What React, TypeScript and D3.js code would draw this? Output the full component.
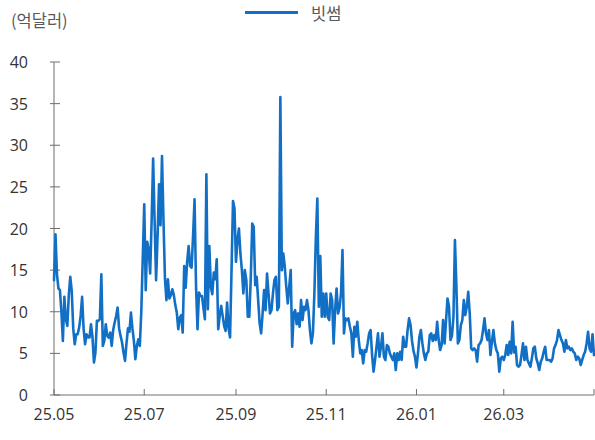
import React from "react";
import * as d3 from "d3";

// Daily trading volume on Bithumb, in 100-million USD (억달러), one array per month.
const may2025 = [13.8, 19.3, 14.5, 12.8, 12.6, 10.0, 6.5, 11.8, 9.1, 8.3, 12.0, 14.2, 12.5, 8.0, 6.1, 7.3, 7.3, 8.1, 9.5, 11.8, 8.0, 6.1, 7.3, 6.9, 6.9, 8.5, 7.0, 3.9, 5.1, 8.9, 8.9];
const jun2025 = [9.1, 14.5, 5.9, 6.5, 8.5, 7.1, 6.9, 7.5, 5.9, 7.8, 8.7, 9.5, 10.5, 8.0, 7.1, 6.3, 5.1, 4.1, 6.2, 8.0, 7.6, 9.9, 8.0, 6.5, 4.3, 5.9, 6.7, 5.9, 10.0, 16.5];
const jul2025 = [22.9, 12.6, 18.4, 17.5, 14.6, 21.0, 28.4, 21.0, 13.8, 19.0, 25.3, 20.4, 28.7, 21.0, 14.0, 11.4, 13.9, 11.6, 12.0, 12.7, 12.0, 10.8, 9.9, 7.9, 9.3, 9.6, 7.5, 15.5, 12.9, 16.0, 17.9];
const aug2025 = [15.5, 15.3, 19.1, 23.5, 13.1, 7.9, 12.3, 11.9, 11.9, 10.5, 9.1, 26.5, 10.3, 17.9, 13.0, 12.1, 14.7, 13.9, 16.3, 7.9, 9.5, 10.7, 9.5, 8.3, 7.7, 11.1, 8.0, 6.9, 15.0, 23.3, 22.4];
const sep2025 = [16.0, 18.6, 20.0, 17.0, 15.0, 12.2, 15.0, 13.8, 9.4, 9.4, 14.0, 20.6, 20.2, 13.2, 14.2, 11.4, 8.6, 7.4, 9.8, 12.6, 10.2, 14.6, 12.2, 9.8, 10.2, 12.2, 13.8, 14.2, 10.2, 10.6];
const oct2025 = [35.8, 15.0, 17.0, 15.4, 13.0, 11.0, 13.0, 15.0, 5.8, 9.8, 10.2, 8.5, 9.8, 8.2, 11.4, 9.0, 10.6, 10.2, 11.4, 10.2, 7.8, 6.2, 7.4, 12.2, 19.0, 23.6, 10.6, 16.7, 9.4, 12.2, 9.4];
const nov2025 = [12.2, 9.4, 9.0, 12.2, 11.4, 6.2, 10.2, 12.8, 9.8, 10.5, 12.2, 17.4, 7.4, 9.2, 9.0, 9.2, 8.2, 7.4, 4.6, 8.2, 7.0, 8.8, 6.6, 5.0, 5.4, 3.8, 5.4, 5.2, 6.2, 7.4];
const dec2025 = [7.8, 4.8, 2.8, 4.2, 5.8, 7.4, 4.6, 5.8, 7.4, 4.6, 4.2, 6.0, 5.8, 5.0, 4.6, 4.2, 5.0, 3.0, 5.0, 4.2, 5.2, 4.2, 7.0, 5.8, 5.8, 7.8, 9.2, 8.4, 6.5, 5.3, 4.6];
const jan2026 = [3.3, 5.0, 7.0, 7.8, 6.2, 5.0, 4.2, 5.0, 5.2, 7.2, 7.4, 6.5, 7.2, 6.6, 8.8, 6.6, 5.4, 6.0, 9.0, 6.2, 9.0, 11.6, 10.6, 6.6, 7.1, 9.4, 18.6, 13.0, 6.2, 6.6, 8.4];
const feb2026 = [9.0, 11.4, 9.6, 10.6, 12.4, 9.8, 5.6, 5.4, 5.6, 5.4, 4.0, 6.0, 6.2, 6.6, 7.8, 9.2, 7.4, 6.6, 7.8, 4.8, 6.4, 7.8, 6.2, 5.4, 5.0, 2.8, 4.4, 4.6];
const mar2026 = [4.2, 4.8, 6.0, 4.8, 6.4, 5.0, 8.8, 5.1, 5.8, 3.6, 3.4, 3.6, 4.8, 6.2, 4.2, 5.8, 4.2, 3.8, 3.4, 4.4, 5.6, 5.8, 4.4, 3.8, 3.0, 4.0, 4.4, 5.2, 5.8, 4.2, 4.2];
const apr2026 = [4.2, 4.0, 4.4, 5.6, 6.0, 6.6, 7.8, 7.2, 6.6, 6.2, 5.2, 6.6, 5.6, 5.8, 5.4, 5.6, 5.2, 5.0, 4.2, 4.6, 4.4, 3.6, 4.2, 4.8, 5.2, 6.2, 7.6, 5.6, 5.2, 7.3];
const may2026 = [4.8];

const seriesName = "빗썸";
const unitLabel = "(억달러)";
const startDate = new Date(2025, 4, 1);
const endDate = new Date(2026, 4, 1);
const yTicks = [0, 5, 10, 15, 20, 25, 30, 35, 40];
const xTickDates = [
  new Date(2025, 4, 1),
  new Date(2025, 6, 1),
  new Date(2025, 8, 1),
  new Date(2025, 10, 1),
  new Date(2026, 0, 1),
  new Date(2026, 2, 1),
  new Date(2026, 4, 1),
];
const xTickLabels = ["25.05", "25.07", "25.09", "25.11", "26.01", "26.03", ""];

const values = [
  ...may2025, ...jun2025, ...jul2025, ...aug2025, ...sep2025, ...oct2025,
  ...nov2025, ...dec2025, ...jan2026, ...feb2026, ...mar2026, ...apr2026, ...may2026,
];
const data = values.map((v, i) => ({ date: d3.timeDay.offset(startDate, i), value: v }));

const W = 595;
const H = 440;
const plot = { left: 54, right: 594, top: 62, bottom: 395 };
const LINE = "#1170c6";
const AXIS = "#6e6e6e";
const TEXT = "#333333";
const NUM_FONT = "'Open Sans', 'Noto Sans', sans-serif";
const KR_FONT = "'Noto Sans CJK KR', 'Noto Sans', sans-serif";

export default function App() {
  const x = d3.scaleTime().domain([startDate, endDate]).range([plot.left, plot.right]);
  const y = d3.scaleLinear().domain([0, 40]).range([plot.bottom, plot.top]);
  const path = d3
    .line<{ date: Date; value: number }>()
    .x((d) => x(d.date))
    .y((d) => y(d.value))(data);

  return (
    <svg
      width={W}
      height={H}
      viewBox={`0 0 ${W} ${H}`}
      style={{ position: "absolute", left: 0, top: 0, background: "#ffffff" }}
    >
      {/* unit label */}
      <text x={11} y={20} dominantBaseline="central" fontFamily={KR_FONT} fontSize={16.5} fill="#595959">
        {unitLabel}
      </text>

      {/* legend */}
      <line x1={245} x2={298} y1={12.5} y2={12.5} stroke={LINE} strokeWidth={3} />
      <text x={311} y={12.5} dominantBaseline="central" fontFamily={KR_FONT} fontSize={16.5} fill="#595959">
        {seriesName}
      </text>

      {/* y axis */}
      <line x1={plot.left} x2={plot.left} y1={plot.top} y2={plot.bottom} stroke={AXIS} strokeWidth={1} />
      {yTicks.map((t) => (
        <g key={`y${t}`}>
          <line x1={plot.left - 4} x2={plot.left + 6} y1={y(t)} y2={y(t)} stroke={AXIS} strokeWidth={1} />
          <text
            x={28}
            y={y(t)}
            textAnchor="end"
            dominantBaseline="central"
            fontFamily={NUM_FONT}
            fontSize={16}
            fill={TEXT}
          >
            {t}
          </text>
        </g>
      ))}

      {/* x axis */}
      <line x1={plot.left} x2={plot.right} y1={plot.bottom} y2={plot.bottom} stroke={AXIS} strokeWidth={1} />
      {xTickDates.map((d, i) => (
        <g key={`x${i}`}>
          <line x1={x(d)} x2={x(d)} y1={plot.bottom} y2={plot.bottom - 6} stroke={AXIS} strokeWidth={1} />
          {xTickLabels[i] && (
            <text
              x={x(d)}
              y={414}
              textAnchor="middle"
              dominantBaseline="central"
              fontFamily={NUM_FONT}
              fontSize={16}
              fill={TEXT}
            >
              {xTickLabels[i]}
            </text>
          )}
        </g>
      ))}

      {/* series line */}
      <path d={path ?? ""} fill="none" stroke={LINE} strokeWidth={2.6} strokeLinejoin="round" strokeLinecap="round" />
    </svg>
  );
}
